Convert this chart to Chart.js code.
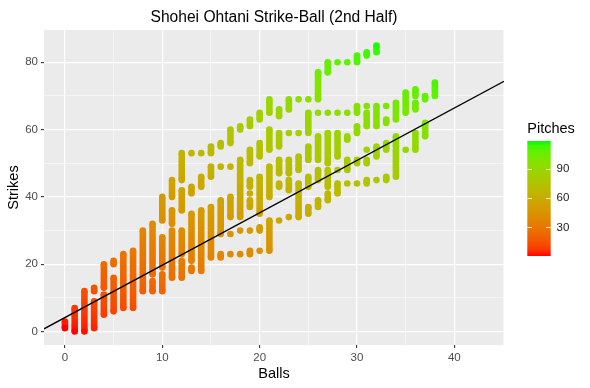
<!DOCTYPE html>
<html>
<head>
<meta charset="utf-8">
<script src="https://cdn.jsdelivr.net/npm/chart.js@4.4.1/dist/chart.umd.min.js"></script>
<style>
  html, body { margin: 0; padding: 0; background: #ffffff; }
  #wrap { width: 590px; height: 388px; }
</style>
</head>
<body>
<div id="wrap"><canvas id="chart" width="590" height="388"></canvas></div>
<script>
// Runs of consecutive strike counts seen at each ball count (one line per ball count)
const runBalls = [
  0,
  1,
  2,
  3, 3,
  4, 4,
  5, 5,
  6,
  7,
  8,
  9, 9,
  10, 10, 10,
  11, 11, 11,
  12, 12, 12, 12,
  13, 13, 13, 13,
  14, 14, 14,
  15, 15, 15,
  16, 16, 16, 16,
  17, 17, 17, 17, 17,
  18, 18, 18, 18,
  19, 19, 19, 19, 19, 19, 19,
  20, 20, 20, 20, 20,
  21, 21, 21, 21,
  22, 22, 22, 22, 22,
  23, 23, 23, 23, 23,
  24, 24, 24, 24,
  25, 25, 25, 25, 25,
  26, 26, 26, 26, 26,
  27, 27, 27, 27, 27,
  28, 28, 28, 28, 28,
  29, 29, 29, 29, 29,
  30, 30, 30, 30, 30,
  31, 31, 31, 31, 31, 31,
  32, 32, 32, 32,
  33, 33, 33, 33,
  34, 34, 34,
  35, 35,
  36, 36, 36,
  37, 37,
  38
];
const runLow = [
  1,
  0,
  0,
  12, 1,
  13, 5,
  20, 6,
  7,
  7,
  12,
  17, 12,
  33, 19, 12,
  40, 32, 16,
  45, 36, 23, 16,
  53, 41, 21, 18,
  53, 43, 18,
  53, 46, 22,
  55, 49, 29, 22,
  56, 49, 34, 29, 23,
  60, 34, 30, 23,
  61, 50, 43, 41, 37, 30, 23,
  63, 52, 35, 30, 24,
  65, 54, 40, 24,
  64, 55, 47, 43, 33,
  66, 59, 47, 42, 34,
  69, 59, 48, 34,
  69, 59, 51, 43, 35,
  69, 65, 51, 45, 37,
  77, 65, 50, 43, 39,
  80, 65, 52, 48, 41,
  80, 65, 57, 48, 44,
  80, 65, 59, 50, 44,
  82, 67, 61, 54, 50, 44,
  83, 61, 52, 45,
  67, 62, 54, 45,
  63, 55, 46,
  65, 54,
  70, 66, 54,
  69, 58,
  70
];
const runHigh = [
  3,
  7,
  12,
  13, 9,
  20, 11,
  21, 16,
  23,
  24,
  30,
  32, 15,
  40, 28, 17,
  45, 36, 30,
  53, 42, 30, 21,
  53, 43, 35, 19,
  53, 46, 36,
  55, 49, 37,
  56, 49, 39, 23,
  60, 49, 40, 29, 23,
  61, 51, 30, 23,
  63, 54, 45, 41, 39, 30, 24,
  65, 56, 46, 31, 24,
  69, 60, 49, 33,
  66, 59, 51, 44, 33,
  69, 59, 51, 45, 34,
  69, 59, 52, 44,
  69, 65, 55, 46, 37,
  77, 65, 58, 48, 39,
  80, 65, 59, 48, 41,
  80, 65, 59, 48, 44,
  80, 65, 58, 51, 44,
  82, 67, 61, 51, 44,
  83, 67, 65, 54, 51, 45,
  85, 67, 55, 45,
  67, 63, 56, 46,
  68, 58, 54,
  71, 54,
  72, 68, 59,
  70, 62,
  74
];

// Straight reference line: strikes = intercept + slope * balls
const lineIntercept = [4.15];
const lineSlope = [1.557];

// Axis ticks and legend
const xGrid = [0, 5, 10, 15, 20, 25, 30, 35, 40, 45];
const xTickLabels = [0, 10, 20, 30, 40];
const yGrid = [0, 10, 20, 30, 40, 50, 60, 70, 80];
const yTickLabels = [0, 20, 40, 60, 80];
const pitchLimits = [1, 118];
const legendTicks = [30, 60, 90];

const X_MIN = -2.15, X_MAX = 45.1;
const Y_MIN = -4.0, Y_MAX = 89.6;
const FONT = '"Liberation Sans", Arial, Helvetica, sans-serif';

// Colour scale: red -> green interpolated in Lab (like ggplot)
function toLinear(c) {
  c /= 255;
  return c <= 0.04045 ? c / 12.92 : Math.pow((c + 0.055) / 1.055, 2.4);
}
function toGamma(c) {
  const v = c <= 0.0031308 ? 12.92 * c : 1.055 * Math.pow(c, 1 / 2.4) - 0.055;
  return Math.round(Math.min(1, Math.max(0, v)) * 255);
}
function rgbToLab(rgb) {
  const [r, g, b] = rgb.map(toLinear);
  const x = (0.4124 * r + 0.3576 * g + 0.1805 * b) / 0.95047;
  const y = 0.2126 * r + 0.7152 * g + 0.0722 * b;
  const z = (0.0193 * r + 0.1192 * g + 0.9505 * b) / 1.08883;
  const f = t => t > 0.008856 ? Math.cbrt(t) : 7.787 * t + 16 / 116;
  const fx = f(x), fy = f(y), fz = f(z);
  return [116 * fy - 16, 500 * (fx - fy), 200 * (fy - fz)];
}
function labToRgb(lab) {
  const fy = (lab[0] + 16) / 116, fx = fy + lab[1] / 500, fz = fy - lab[2] / 200;
  const inv = t => t > 0.206893 ? t * t * t : (t - 16 / 116) / 7.787;
  const x = inv(fx) * 0.95047, y = inv(fy), z = inv(fz) * 1.08883;
  const r = 3.2406 * x - 1.5372 * y - 0.4986 * z;
  const g = -0.9689 * x + 1.8758 * y + 0.0415 * z;
  const b = 0.0557 * x - 0.2040 * y + 1.0570 * z;
  return [toGamma(r), toGamma(g), toGamma(b)];
}
const LAB_LOW = rgbToLab([255, 0, 0]);
const LAB_HIGH = rgbToLab([0, 255, 0]);
function pitchColor(p) {
  let t = (p - pitchLimits[0]) / (pitchLimits[1] - pitchLimits[0]);
  t = Math.min(1, Math.max(0, t));
  const lab = LAB_LOW.map((v, i) => v + (LAB_HIGH[i] - v) * t);
  const c = labToRgb(lab);
  return `rgb(${c[0]},${c[1]},${c[2]})`;
}

// Build the line data: each run is a vertical stroke, runs separated by gaps
const runPoints = [];
runBalls.forEach((b, i) => {
  runPoints.push({ x: b, y: runLow[i] });
  if (runHigh[i] !== runLow[i]) runPoints.push({ x: b, y: runHigh[i] });
  runPoints.push({ x: b, y: null });
});

const fitPoints = [X_MIN, X_MAX].map(x => ({ x: x, y: lineIntercept[0] + lineSlope[0] * x }));

// Panel background, titles and colour bar legend
const ggPlugin = {
  id: 'ggDecor',
  beforeDraw(chart) {
    const { ctx, chartArea: a } = chart;
    ctx.save();
    ctx.fillStyle = '#ffffff';
    ctx.fillRect(0, 0, chart.width, chart.height);
    ctx.fillStyle = '#EBEBEB';
    ctx.fillRect(a.left, a.top, a.right - a.left, a.bottom - a.top);
    ctx.restore();
  },
  afterDraw(chart) {
    const { ctx, chartArea: a } = chart;
    ctx.save();
    ctx.fillStyle = '#000000';
    ctx.textAlign = 'center';
    ctx.textBaseline = 'alphabetic';
    ctx.font = `15.6px ${FONT}`;
    ctx.fillText('Shohei Ohtani Strike-Ball (2nd Half)', (a.left + a.right) / 2, 22);

    ctx.font = `14.5px ${FONT}`;
    ctx.fillText('Balls', (a.left + a.right) / 2, 377.5);

    ctx.save();
    ctx.translate(18.3, (a.top + a.bottom) / 2);
    ctx.rotate(-Math.PI / 2);
    ctx.fillText('Strikes', 0, 0);
    ctx.restore();

    // legend
    const barX = 527.3, barW = 23.4, barTop = 141, barBottom = 256;
    ctx.textAlign = 'left';
    ctx.fillText('Pitches', barX, 133.3);
    const grad = ctx.createLinearGradient(0, barBottom, 0, barTop);
    for (let k = 0; k <= 20; k++) {
      const p = pitchLimits[0] + (pitchLimits[1] - pitchLimits[0]) * k / 20;
      grad.addColorStop(k / 20, pitchColor(p));
    }
    ctx.fillStyle = grad;
    ctx.fillRect(barX, barTop, barW, barBottom - barTop);

    const toY = v => barBottom - (v - pitchLimits[0]) / (pitchLimits[1] - pitchLimits[0]) * (barBottom - barTop);
    ctx.strokeStyle = 'rgba(255,255,255,0.85)';
    ctx.lineWidth = 1;
    ctx.font = `11.5px ${FONT}`;
    ctx.fillStyle = '#1a1a1a';
    ctx.textBaseline = 'middle';
    legendTicks.forEach(v => {
      const y = Math.round(toY(v)) + 0.5;
      ctx.beginPath();
      ctx.moveTo(barX, y); ctx.lineTo(barX + 4.7, y);
      ctx.moveTo(barX + barW - 4.7, y); ctx.lineTo(barX + barW, y);
      ctx.stroke();
      ctx.fillText(String(v), 556.5, toY(v));
    });
    ctx.restore();
  }
};

function gridOptions(majorLabels) {
  return {
    color: '#FFFFFF',
    lineWidth: c => majorLabels.includes(c.tick.value) ? 1.2 : 0.55,
    tickColor: c => majorLabels.includes(c.tick.value) ? '#333333' : 'rgba(0,0,0,0)',
    tickWidth: 1.1,
    tickLength: 3,
    drawTicks: true
  };
}

const chart = new Chart(document.getElementById('chart'), {
  type: 'line',
  data: {
    datasets: [
      {
        label: 'fit',
        data: fitPoints,
        borderColor: '#000000',
        borderWidth: 1.3,
        pointRadius: 0,
        order: 0
      },
      {
        label: 'Pitches',
        data: runPoints,
        spanGaps: false,
        borderWidth: 6.6,
        borderCapStyle: 'butt',
        borderColor: '#888888',
        segment: {
          borderColor: c => {
            const d0 = runPoints[c.p0DataIndex], d1 = runPoints[c.p1DataIndex];
            const g = c.chart.ctx.createLinearGradient(c.p0.x, c.p0.y, c.p1.x, c.p1.y);
            const n = Math.max(1, d1.y - d0.y);
            for (let k = 0; k <= n; k++) {
              g.addColorStop(k / n, pitchColor(d0.x + d0.y + (d1.y - d0.y) * k / n));
            }
            return g;
          }
        },
        pointRadius: 3.3,
        pointBorderWidth: 0,
        pointBackgroundColor: c => (c.raw && c.raw.y !== null) ? pitchColor(c.raw.x + c.raw.y) : 'rgba(0,0,0,0)',
        order: 1
      }
    ]
  },
  options: {
    responsive: false,
    animation: false,
    layout: { padding: { top: 30, right: 86, left: 0, bottom: 0 } },
    plugins: {
      legend: { display: false },
      tooltip: { enabled: false },
      title: { display: false }
    },
    scales: {
      x: {
        type: 'linear',
        min: X_MIN,
        max: X_MAX,
        afterBuildTicks: s => { s.ticks = xGrid.map(v => ({ value: v })); },
        afterFit: s => { s.height = 43; },
        grid: gridOptions(xTickLabels),
        border: { display: false },
        ticks: {
          autoSkip: false,
          maxRotation: 0,
          padding: 3,
          color: '#4D4D4D',
          font: { family: FONT, size: 11.5 },
          callback: v => xTickLabels.includes(v) ? String(v) : ''
        }
      },
      y: {
        type: 'linear',
        min: Y_MIN,
        max: Y_MAX,
        afterBuildTicks: s => { s.ticks = yGrid.map(v => ({ value: v })); },
        afterFit: s => { s.width = 44; },
        grid: gridOptions(yTickLabels),
        border: { display: false },
        ticks: {
          autoSkip: false,
          padding: 3,
          color: '#4D4D4D',
          font: { family: FONT, size: 11.5 },
          callback: v => yTickLabels.includes(v) ? String(v) : ''
        }
      }
    }
  },
  plugins: [ggPlugin]
});
</script>
</body>
</html>
